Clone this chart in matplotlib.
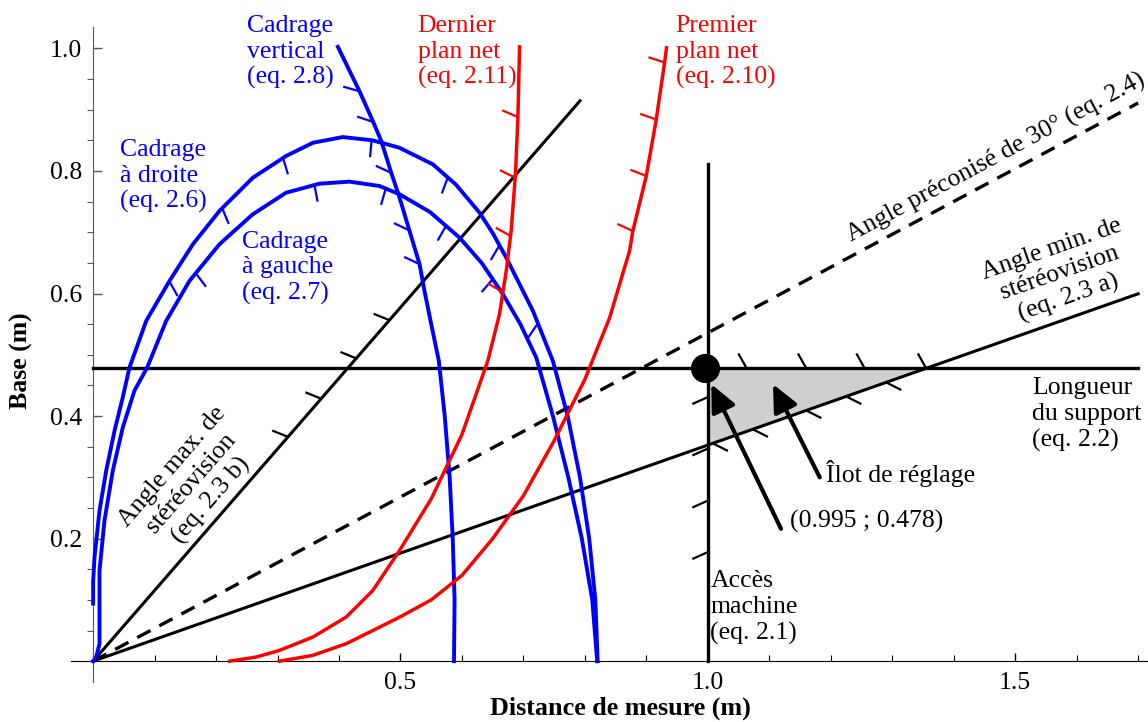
import numpy as np
import matplotlib
matplotlib.use("Agg")
import matplotlib.pyplot as plt
from matplotlib.ticker import MultipleLocator, FormatStrFormatter

plt.rcParams["font.family"] = ["Liberation Serif", "DejaVu Serif"]

BLUE = "#0000ff"
RED = "#ff0000"
FS = 18.5

# straight constraints (distance, base)
angle_max_x = [0.0, 0.792]
angle_max_y = [0.0, 0.9145]
angle_30_x = [0.0, 1.70]
angle_30_y = [0.0, 0.911]
angle_min_x = [0.0, 1.70]
angle_min_y = [0.0, 0.5996]
support_x = [0.0, 1.70]
support_y = [0.478, 0.478]
acces_x = [1.0, 1.0]
acces_y = [0.0, 0.812]

# curves
droite_x = [0.0, 0.0, 0.0023, 0.0104, 0.0213, 0.0348, 0.0483, 0.0592, 0.0864, 0.1243,
            0.1623, 0.2056, 0.2598, 0.314, 0.3574, 0.406, 0.4547, 0.4981, 0.5526, 0.59,
            0.6286, 0.651, 0.672, 0.7154, 0.7479, 0.772, 0.792, 0.807, 0.817, 0.8207]
droite_y = [0.094, 0.13, 0.170, 0.246, 0.311, 0.376, 0.431, 0.4794, 0.5555, 0.6207,
            0.6805, 0.7349, 0.789, 0.8245, 0.846, 0.8554, 0.850, 0.838, 0.8109, 0.778,
            0.732, 0.697, 0.6587, 0.5718, 0.490, 0.40, 0.30, 0.20, 0.10, 0.0]

gauche_x = [0.0, 0.005, 0.0104, 0.0104, 0.0185, 0.032, 0.0483, 0.0673, 0.088, 0.1189,
            0.1568, 0.2056, 0.2598, 0.314, 0.3682, 0.4171, 0.4659, 0.4985, 0.548, 0.596,
            0.632, 0.6666, 0.695, 0.7208, 0.748, 0.773, 0.795, 0.812, 0.82]
gauche_y = [0.0, 0.0067, 0.0285, 0.148, 0.2295, 0.311, 0.3816, 0.4417, 0.4794, 0.5555,
            0.6207, 0.6805, 0.7294, 0.7646, 0.7793, 0.7826, 0.7755, 0.762, 0.733, 0.6913,
            0.650, 0.599, 0.550, 0.4957, 0.40, 0.30, 0.20, 0.10, 0.0]

vertical_x = [0.3982, 0.4334, 0.455, 0.4687, 0.485, 0.4985, 0.5147, 0.531, 0.539, 0.550,
              0.5624, 0.572, 0.580, 0.585, 0.588, 0.587]
vertical_y = [1.0026, 0.9299, 0.8815, 0.849, 0.797, 0.7565, 0.702, 0.648, 0.6044, 0.550,
              0.490, 0.40, 0.30, 0.20, 0.10, 0.0]

dernier_x = [0.2219, 0.2653, 0.3032, 0.3574, 0.4117, 0.455, 0.4985, 0.55, 0.60, 0.642,
             0.661, 0.672, 0.680, 0.687, 0.691, 0.6937]
dernier_y = [0.0, 0.0067, 0.0176, 0.0393, 0.072, 0.1154, 0.1806, 0.265, 0.37, 0.490,
             0.566, 0.637, 0.702, 0.7946, 0.887, 1.0026]

premier_x = [0.3032, 0.3574, 0.4117, 0.455, 0.4985, 0.55, 0.60, 0.65, 0.70, 0.75,
             0.80, 0.84, 0.8726, 0.878, 0.8998, 0.916, 0.9296, 0.9327]
premier_y = [0.0, 0.0095, 0.0285, 0.050, 0.0718, 0.10, 0.14, 0.20, 0.27, 0.36,
             0.46, 0.56, 0.6695, 0.702, 0.7918, 0.884, 0.9765, 1.001]

# hatch anchors (x or y along each constraint)
hatch_angle_max = [0.317, 0.371, 0.428, 0.482]
hatch_support = [1.063, 1.160, 1.255, 1.355]
hatch_angle_min = [1.008, 1.073, 1.160, 1.225, 1.290]
hatch_acces = [0.431, 0.347, 0.262, 0.178]
hatch_vertical = [0.930, 0.880, 0.797, 0.703, 0.648]
hatch_droite = [0.124, 0.210, 0.309, 0.453, 0.577, 0.661, 0.7235]
hatch_gauche = [0.167, 0.360, 0.476, 0.574, 0.650]
hatch_dernier = [0.888, 0.789, 0.694, 0.602]
hatch_premier = [0.977, 0.884, 0.792, 0.702]

point = (0.995, 0.478)
arrow_point = [(1.119, 0.216), (1.0056, 0.452)]
arrow_ilot = [(1.182, 0.300), (1.106, 0.452)]


def draw_hatches(ax, cx, cy, anchors, along, color, rel=None, down=None, length=17.0, lw=1.6):
    cx = np.asarray(cx, float)
    cy = np.asarray(cy, float)
    key, other = (cx, cy) if along == "x" else (cy, cx)
    order = np.argsort(key, kind="stable")
    key, other = key[order], other[order]
    to_disp = ax.transData.transform
    to_data = ax.transData.inverted().transform
    h = 0.003
    for a in anchors:
        b = np.interp(a, key, other)
        b2 = np.interp(a + h, key, other)
        if along == "x":
            p, q = (a, b), (a + h, b2)
        else:
            p, q = (b, a), (b2, a + h)
        P, Q = to_disp([p, q])
        t = (Q - P) / np.hypot(*(Q - P))
        if rel is not None:
            r = np.radians(rel)
            d = np.array([t[0] * np.cos(r) - t[1] * np.sin(r),
                          t[0] * np.sin(r) + t[1] * np.cos(r)])
        else:
            d = np.array([t[1], -t[0]]) + down * np.array([0.0, -1.0])
            d = d / np.hypot(*d)
        e = to_data(P + d * length)
        ax.plot([p[0], e[0]], [p[1], e[1]], color=color, lw=lw, solid_capstyle="butt", zorder=4)


fig = plt.figure(figsize=(11.48, 7.22), dpi=100)
ax = fig.add_axes([71 / 1148, 1 - 682 / 722, 1077 / 1148, 655 / 722])
ax.set_xlim(-0.036, 1.716)
ax.set_ylim(-0.034, 1.035)

for side in ["top", "right"]:
    ax.spines[side].set_visible(False)
ax.spines["left"].set_position(("data", 0))
ax.spines["bottom"].set_position(("data", 0))
ax.spines["left"].set_color("#555555")
ax.spines["bottom"].set_color("black")

ax.xaxis.set_major_locator(MultipleLocator(0.5))
ax.xaxis.set_minor_locator(MultipleLocator(0.1))
ax.yaxis.set_major_locator(MultipleLocator(0.2))
ax.yaxis.set_minor_locator(MultipleLocator(0.05))
ax.xaxis.set_major_formatter(FormatStrFormatter("%.1f"))
ax.yaxis.set_major_formatter(FormatStrFormatter("%.1f"))
ax.set_xticks([0.5, 1.0, 1.5])
ax.set_yticks([0.2, 0.4, 0.6, 0.8, 1.0])
ax.tick_params(axis="x", which="major", direction="in", length=6, width=1, pad=8, labelsize=FS)
ax.tick_params(axis="x", which="minor", direction="in", length=4, width=0.8)
ax.tick_params(axis="y", which="major", direction="in", length=6.5, width=1, pad=8,
               labelsize=FS, color="#555555")
ax.tick_params(axis="y", which="minor", direction="out", length=4.3, width=0.8, color="#555555")

ax.set_xlabel("Distance de mesure (m)", fontsize=18.8, fontweight="bold")
ax.xaxis.set_label_coords(0.51, -0.022)
ax.set_ylabel("Base (m)", fontsize=18.5, fontweight="bold")
ax.yaxis.set_label_coords(-0.035, 0.49)

# shaded feasible island
slope_min = angle_min_y[1] / angle_min_x[1]
x_cross = support_y[0] / slope_min
x_fill = np.linspace(acces_x[0], x_cross, 60)
ax.fill_between(x_fill, np.interp(x_fill, angle_min_x, angle_min_y), support_y[0],
                color="#cfcfcf", lw=0, zorder=1)

# straight lines
ax.plot(angle_max_x, angle_max_y, color="k", lw=2.2, zorder=3)
ax.plot(angle_30_x, angle_30_y, color="k", lw=2.4, ls=(0, (4.5, 3)), zorder=3)
ax.plot(angle_min_x, angle_min_y, color="k", lw=2.2, zorder=3)
ax.plot(support_x, support_y, color="k", lw=2.4, zorder=3)
ax.plot(acces_x, acces_y, color="k", lw=2.4, zorder=3)

# curves
ax.plot(droite_x, droite_y, color=BLUE, lw=2.8, zorder=3)
ax.plot(gauche_x, gauche_y, color=BLUE, lw=2.8, zorder=3)
ax.plot(vertical_x, vertical_y, color=BLUE, lw=2.8, zorder=3)
ax.plot(dernier_x, dernier_y, color=RED, lw=2.5, zorder=3)
ax.plot(premier_x, premier_y, color=RED, lw=2.5, zorder=3)

# hatches
draw_hatches(ax, angle_max_x, angle_max_y, hatch_angle_max, "x", "k", rel=109)
draw_hatches(ax, support_x, support_y, hatch_support, "x", "k", rel=119)
draw_hatches(ax, angle_min_x, angle_min_y, hatch_angle_min, "x", "k", rel=-46)
draw_hatches(ax, acces_x, acces_y, hatch_acces, "y", "k", rel=114)
draw_hatches(ax, vertical_x, vertical_y, hatch_vertical, "y", BLUE, rel=48)
draw_hatches(ax, droite_x, droite_y, hatch_droite, "x", BLUE, down=1.0)
draw_hatches(ax, gauche_x, gauche_y, hatch_gauche, "x", BLUE, down=0.4)
draw_hatches(ax, dernier_x, dernier_y, hatch_dernier, "y", RED, rel=68)
draw_hatches(ax, premier_x, premier_y, hatch_premier, "y", RED, rel=79)

# chosen setting and arrows
ax.plot([point[0]], [point[1]], "o", ms=20, color="k", zorder=6)
for tail, tip in [arrow_point, arrow_ilot]:
    ax.annotate("", xy=tip, xytext=tail, zorder=6,
                arrowprops=dict(arrowstyle="-|>,head_length=0.75,head_width=0.35",
                                lw=3, color="k", shrinkA=0, shrinkB=0, mutation_scale=22))

# labels
ax.text(0.250, 1.054, "Cadrage\nvertical\n(eq. 2.8)", color=BLUE, fontsize=FS, ha="left", va="top")
ax.text(0.528, 1.054, "Dernier\nplan net\n(eq. 2.11)", color=RED, fontsize=FS, ha="left", va="top")
ax.text(0.9475, 1.054, "Premier\nplan net\n(eq. 2.10)", color=RED, fontsize=FS, ha="left", va="top")
ax.text(0.043, 0.852, "Cadrage\nà droite\n(eq. 2.6)", color=BLUE, fontsize=FS, ha="left", va="top")
ax.text(0.242, 0.702, "Cadrage\nà gauche\n(eq. 2.7)", color=BLUE, fontsize=FS, ha="left", va="top")
ax.text(1.528, 0.463, "Longueur\ndu support\n(eq. 2.2)", fontsize=FS, ha="left", va="top")
ax.text(1.004, 0.148, "Accès\nmachine\n(eq. 2.1)", fontsize=FS, ha="left", va="top")
ax.text(1.1926, 0.292, "Îlot de réglage", fontsize=FS, ha="left", va="baseline")
ax.text(1.133, 0.228, "(0.995 ; 0.478)", fontsize=FS, ha="left", va="center")

ax.text(0.1609, 0.2893, "Angle max. de\nstéréovision\n(eq. 2.3 b)", fontsize=FS,
        rotation=49.1, rotation_mode="anchor", ha="center", va="center", multialignment="center")
ax.text(1.469, 0.822, "Angle préconisé de 30° (eq. 2.4)", fontsize=FS,
        rotation=28.2, rotation_mode="anchor", ha="center", va="center")
ax.text(1.573, 0.633, "Angle min. de\nstéréovision\n(eq. 2.3 a)", fontsize=FS,
        rotation=19.4, rotation_mode="anchor", ha="center", va="center", multialignment="center")

fig.savefig("out.png", dpi=100)
